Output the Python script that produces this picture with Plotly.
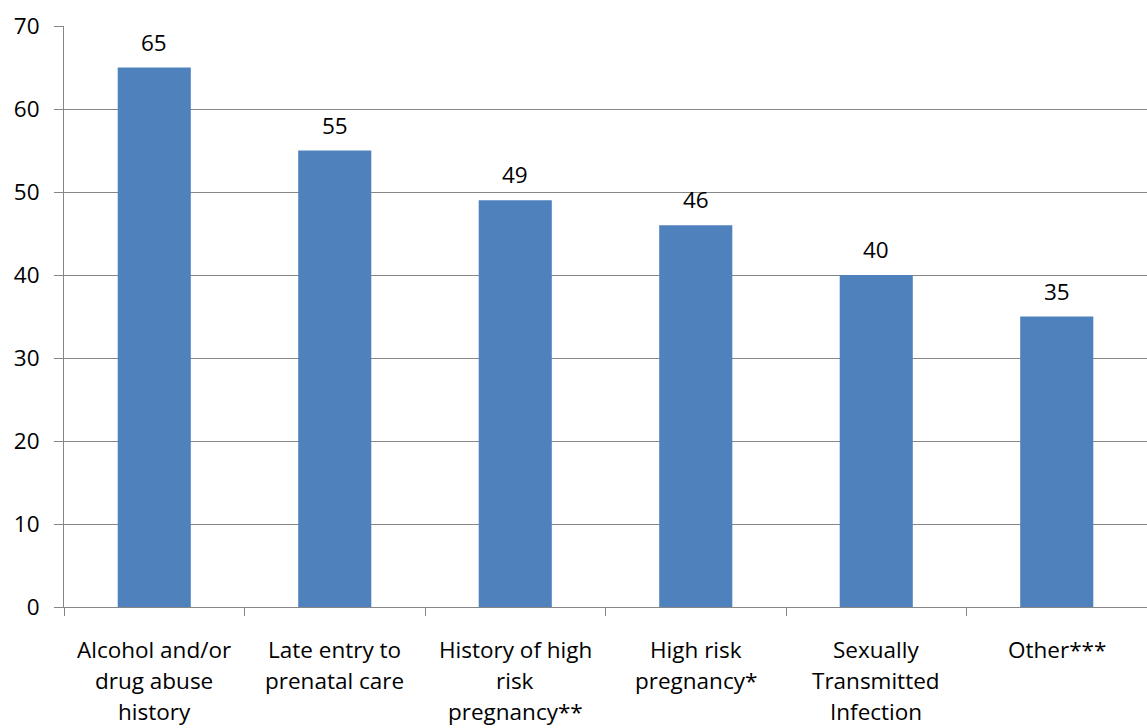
import plotly.graph_objects as go

categories = [
    "Alcohol and/or<br>drug abuse<br>history",
    "Late entry to<br>prenatal care",
    "History of high<br>risk<br>pregnancy**",
    "High risk<br>pregnancy*",
    "Sexually<br>Transmitted<br>Infection",
    "Other***",
]
values = [65, 55, 49, 46, 40, 35]
y_ticks = [0, 10, 20, 30, 40, 50, 60, 70]

FONT = "'Open Sans', sans-serif"
FONT_SIZE = 22.5
BAR_COLOR = "#4f81bd"
AXIS_GRAY = "#868686"

x_keys = list(range(len(categories)))

fig = go.Figure()
fig.add_trace(go.Bar(
    x=x_keys,
    y=values,
    width=0.405,
    marker=dict(color=BAR_COLOR, line=dict(width=0)),
    hoverinfo="skip",
))

annotations = []
# value labels above bars
for k, v in zip(x_keys, values):
    annotations.append(dict(
        x=k, y=v, xref="x", yref="y", text=str(v), showarrow=False,
        yanchor="bottom", yshift=8,
        font=dict(family=FONT, size=FONT_SIZE, color="#000000"),
    ))
# category labels, one annotation per line for wider line spacing
for k, label in zip(x_keys, categories):
    for i, line in enumerate(label.split("<br>")):
        annotations.append(dict(
            x=k, y=0, xref="x", yref="paper", text=line, showarrow=False,
            yanchor="middle", yshift=-42 - 31 * i,
            font=dict(family=FONT, size=FONT_SIZE, color="#000000"),
        ))

fig.update_layout(
    width=1147, height=728,
    margin=dict(l=64, r=0, t=26, b=121),
    paper_bgcolor="white", plot_bgcolor="white",
    showlegend=False,
    bargap=0.6,
    annotations=annotations,
    xaxis=dict(
        range=[-0.5, len(categories) - 0.5],
        tickmode="array",
        tickvals=[k - 0.5 for k in x_keys] + [len(categories) - 0.5],
        showticklabels=False,
        ticks="outside", ticklen=8, tickwidth=1, tickcolor=AXIS_GRAY,
        showline=True, linecolor=AXIS_GRAY, linewidth=1,
        showgrid=False, zeroline=False, fixedrange=True,
    ),
    yaxis=dict(
        range=[0, 70],
        tickmode="array", tickvals=y_ticks,
        ticks="outside", ticklen=9, tickwidth=1, tickcolor=AXIS_GRAY,
        showline=True, linecolor=AXIS_GRAY, linewidth=1,
        showgrid=True, gridcolor=AXIS_GRAY, gridwidth=1,
        zeroline=False,
        tickfont=dict(family=FONT, size=FONT_SIZE, color="#000000"),
        ticklabelstandoff=10,
        fixedrange=True,
    ),
)

fig.write_html("out.html")
